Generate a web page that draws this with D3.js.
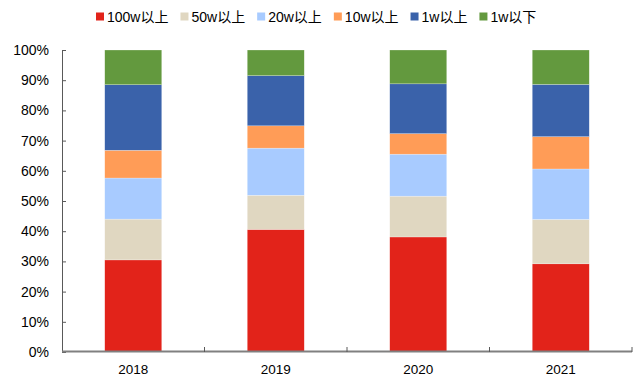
<!DOCTYPE html>
<html>
<head>
<meta charset="utf-8">
<script src="https://cdn.jsdelivr.net/npm/d3@7"></script>
<style>
  html, body { margin: 0; padding: 0; background: #fff; }
  svg { display: block; font-family: Arial, "Liberation Sans", "Noto Sans CJK SC", sans-serif; }
</style>
</head>
<body>
<svg id="chart" width="639" height="376"></svg>
<script>
// Share of each bracket per year (percent)
const years = ["2018", "2019", "2020", "2021"];
const seriesNames = ["100w以上", "50w以上", "20w以上", "10w以上", "1w以上", "1w以下"];
const s100w = [30.5, 40.6, 38.1, 29.2];
const s50w  = [13.5, 11.3, 13.5, 14.7];
const s20w  = [13.6, 15.6, 13.9, 16.7];
const s10w  = [9.2, 7.4, 6.8, 10.7];
const s1w   = [21.7, 16.6, 16.5, 17.3];
const sLow  = [11.5, 8.5, 11.2, 11.4];
const yTicks = [0, 10, 20, 30, 40, 50, 60, 70, 80, 90, 100];
const colors = ["#E2231A", "#E0D7C1", "#A8CBFF", "#FF9C57", "#3A62AA", "#63993E"];

const seriesValues = [s100w, s50w, s20w, s10w, s1w, sLow];
const rows = years.map((yr, i) => {
  const r = { year: yr };
  seriesNames.forEach((n, k) => { r[n] = seriesValues[k][i]; });
  return r;
});
const stacked = d3.stack().keys(seriesNames)(rows);

const svg = d3.select("#chart");
const plotLeft = 62, plotRight = 632, plotTop = 50, plotBottom = 352;

const x = d3.scaleBand().domain(years).range([plotLeft, plotRight]).paddingInner(0.6).paddingOuter(0.3);
const y = d3.scaleLinear().domain([0, 100]).range([plotBottom, plotTop]);

// Bars
svg.append("g").selectAll("g")
  .data(stacked)
  .join("g")
  .attr("fill", (d, i) => colors[i])
  .selectAll("rect")
  .data(d => d)
  .join("rect")
  .attr("x", d => x(d.data.year))
  .attr("width", x.bandwidth())
  .attr("y", d => y(d[1]))
  .attr("height", d => y(d[0]) - y(d[1]))
  .attr("stroke", "#ffffff")
  .attr("stroke-opacity", 0.5)
  .attr("stroke-width", 0.5);

// Y axis
const yAxis = d3.axisLeft(y).tickValues(yTicks).tickFormat(d => d + "%").tickSizeInner(-4).tickSizeOuter(0).tickPadding(13);
const gy = svg.append("g").attr("transform", `translate(${plotLeft},0)`).call(yAxis);
gy.select(".domain").attr("stroke", "#595959").attr("stroke-width", 1);
gy.selectAll(".tick line").attr("stroke", "#595959");
gy.selectAll("text").attr("font-size", 14).attr("fill", "#000")
  .attr("font-family", "Arial, 'Liberation Sans', sans-serif");

// X axis line with boundary ticks
const gx = svg.append("g");
gx.append("line").attr("x1", plotLeft).attr("x2", plotRight).attr("y1", plotBottom - 0.5).attr("y2", plotBottom - 0.5)
  .attr("stroke", "#808080").attr("stroke-width", 2);
const boundaries = years.slice(1).map(yr => x(yr) - x.step() * x.paddingInner() / 2).concat([plotRight]);
gx.selectAll("line.b").data(boundaries).join("line").attr("class", "b")
  .attr("x1", d => d).attr("x2", d => d).attr("y1", plotBottom - 5).attr("y2", plotBottom)
  .attr("stroke", "#595959").attr("stroke-width", 1);
gx.selectAll("text").data(years).join("text")
  .attr("x", d => x(d) + x.bandwidth() / 2)
  .attr("y", 374)
  .attr("text-anchor", "middle")
  .attr("font-size", 13.5)
  .attr("fill", "#000")
  .text(d => d);

// Legend
const legend = svg.append("g");
let lx = 96;
seriesNames.forEach((n, i) => {
  legend.append("rect").attr("x", lx).attr("y", 12.5).attr("width", 8).attr("height", 8).attr("fill", colors[i]);
  const t = legend.append("text").attr("x", lx + 11).attr("y", 21.5).attr("font-size", 14).attr("fill", "#000").text(n);
  lx += 11 + t.node().getComputedTextLength() + 12;
});
</script>
</body>
</html>
